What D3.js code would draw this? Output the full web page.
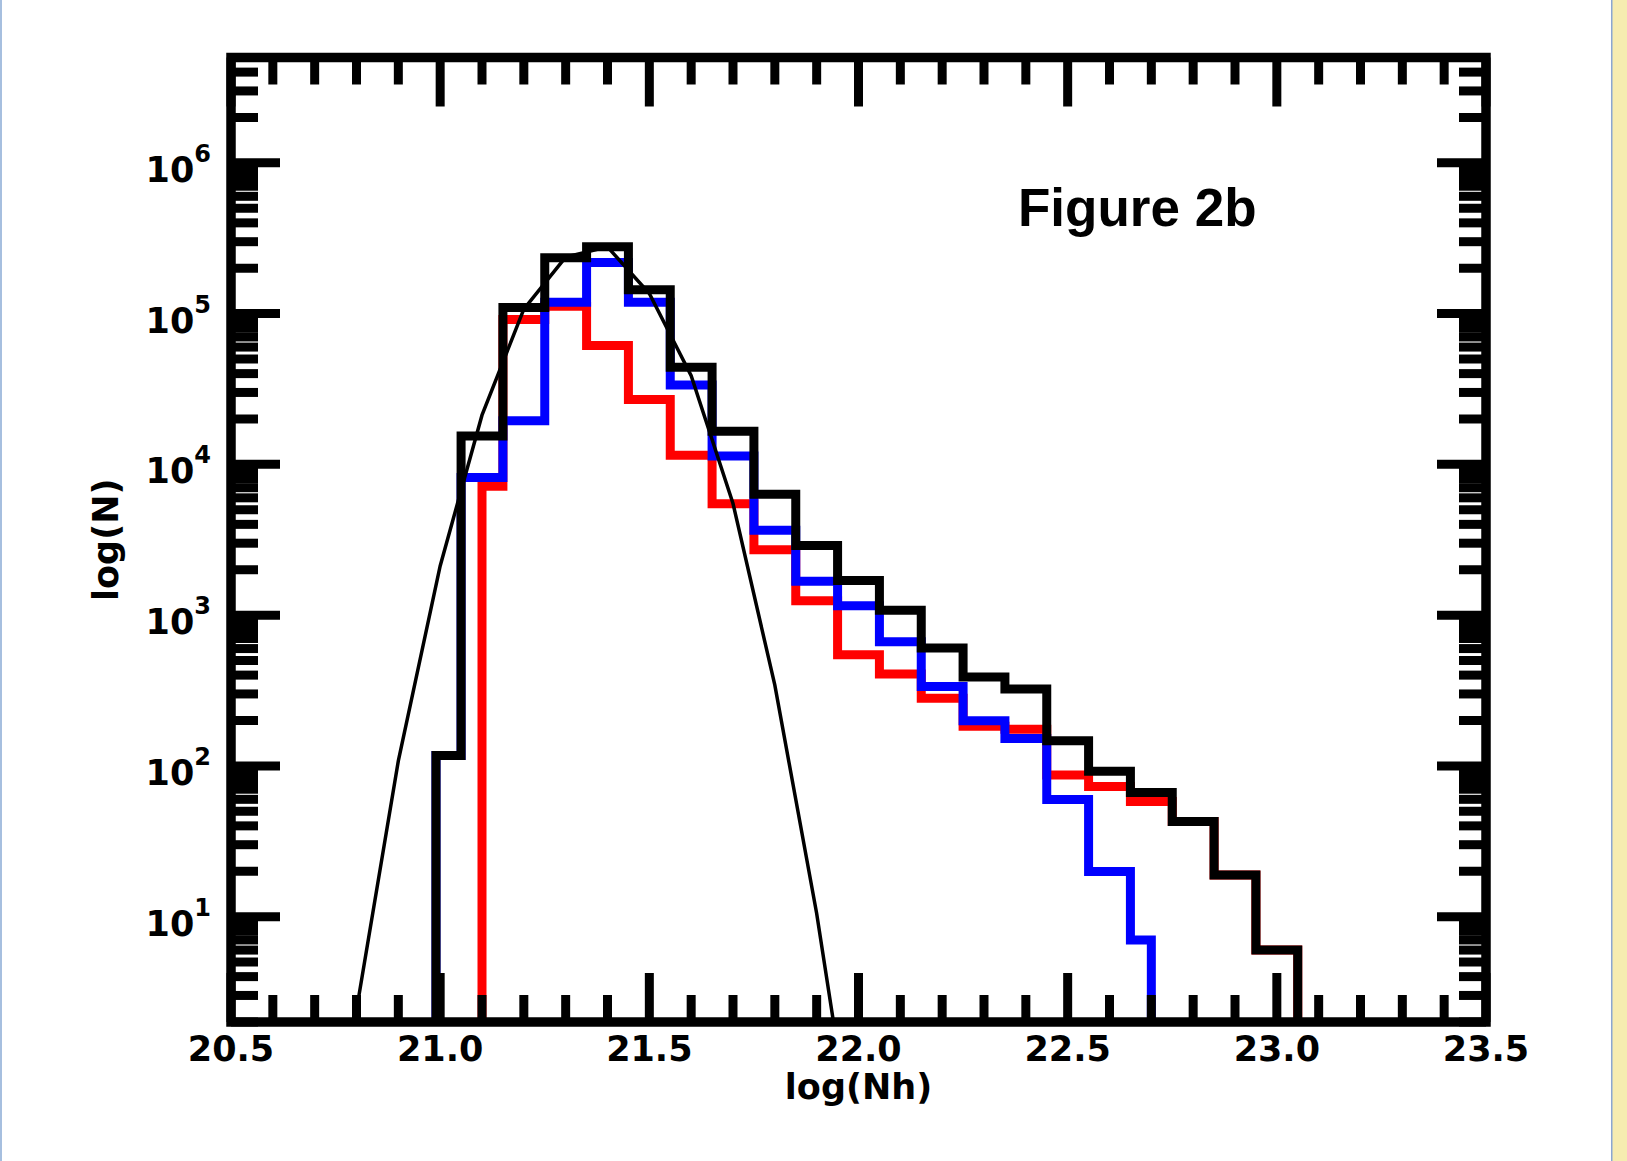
<!DOCTYPE html>
<html>
<head>
<meta charset="utf-8">
<script src="https://cdn.jsdelivr.net/npm/d3@7"></script>
<style>
  body { margin: 0; background: #fff; }
  svg { display: block; }
</style>
</head>
<body>
<svg id="chart" width="1627" height="1161"></svg>
<script>
// histogram bin edges / counts
var blackEdges = [20.99, 21.05, 21.15, 21.25, 21.35, 21.45, 21.55, 21.65, 21.75, 21.85, 21.95,
                  22.05, 22.15, 22.25, 22.35, 22.45, 22.55, 22.65, 22.75, 22.85, 22.95, 23.05];
var blackCounts = [117, 15400, 110000, 235000, 278000, 144000, 44000, 16600, 6340, 2900, 1700,
                   1076, 605, 389, 324, 147, 92, 66.5, 42.8, 18.9, 6.0];

var blueEdges = [20.99, 21.05, 21.15, 21.25, 21.35, 21.45, 21.55, 21.65, 21.75, 21.85, 21.95,
                 22.05, 22.15, 22.25, 22.35, 22.45, 22.55, 22.65, 22.7];
var blueCounts = [117, 8170, 19500, 119000, 218000, 119000, 33600, 11350, 3660, 1675, 1153,
                  665, 336, 199, 152, 59.8, 19.9, 7.0];

var redEdges = [21.1, 21.15, 21.25, 21.35, 21.45, 21.55, 21.65, 21.75, 21.85, 21.95,
                22.05, 22.15, 22.25, 22.35, 22.45, 22.55, 22.65, 22.75, 22.85, 22.95, 23.05];
var redCounts = [7160, 91400, 112000, 61400, 26900, 11500, 5480, 2715, 1245, 545,
                 407, 281, 183, 175, 87, 73, 58, 42.8, 18.9, 6.0];

// fitted curve (thin line)
var fitX = [20.8, 20.9, 21.0, 21.1, 21.2, 21.3, 21.4, 21.5, 21.6, 21.7, 21.8, 21.9, 22.0];
var fitY = [2.4, 108, 2120, 21200, 107000, 237000, 277000, 136000, 38700, 5500, 343, 10.5, 0.17];

var xDomain = [20.5, 23.5];
var yDomain = [2, 5e6];

var svg = d3.select("#chart");

// page decoration: thin blue rule at left, yellow strip at right
svg.append("rect").attr("x", 0).attr("y", 0).attr("width", 2).attr("height", 1161).style("fill", "#a6bfdf");
svg.append("rect").attr("x", 1612).attr("y", 0).attr("width", 15).attr("height", 1161).style("fill", "#f6ecb0");
svg.append("rect").attr("x", 1611).attr("y", 0).attr("width", 1.5).attr("height", 1161).style("fill", "#8aa6d2");

var pLeft = 231, pRight = 1486, pTop = 57.5, pBottom = 1022;

var x = d3.scaleLinear().domain(xDomain).range([pLeft, pRight]);
var y = d3.scaleLog().domain(yDomain).range([pBottom, pTop]);

svg.append("clipPath").attr("id", "plotclip")
  .append("rect")
  .attr("x", pLeft).attr("y", pTop)
  .attr("width", pRight - pLeft).attr("height", pBottom - pTop);

var plot = svg.append("g").attr("clip-path", "url(#plotclip)");

function stepPoints(edges, counts) {
  var pts = [[edges[0], yDomain[0] / 10]];
  for (var i = 0; i < counts.length; i++) pts.push([edges[i], counts[i]]);
  pts.push([edges[edges.length - 1], counts[counts.length - 1]]);
  pts.push([edges[edges.length - 1], yDomain[0] / 10]);
  return pts;
}

var stepLine = d3.line()
  .x(function(d) { return x(d[0]); })
  .y(function(d) { return y(d[1]); });

function drawHist(edges, counts, color) {
  var pts = stepPoints(edges, counts);
  var path = [];
  for (var i = 0; i < pts.length; i++) {
    if (i > 0) path.push([pts[i][0], pts[i - 1][1]]);
    path.push(pts[i]);
  }
  plot.append("path")
    .attr("d", stepLine(path))
    .style("fill", "none")
    .style("stroke", color)
    .style("stroke-width", 9)
    .style("stroke-linejoin", "miter");
}

drawHist(redEdges, redCounts, "#ff0000");
drawHist(blueEdges, blueCounts, "#0000ff");
drawHist(blackEdges, blackCounts, "#000000");

plot.append("path")
  .attr("d", d3.line()
    .x(function(d, i) { return x(fitX[i]); })
    .y(function(d) { return y(d); })(fitY))
  .style("fill", "none")
  .style("stroke", "#000")
  .style("stroke-width", 3.5);

// ticks, inward on all four sides
var majorLen = 49, minorLen = 27, tickW = 9;
var ticksG = svg.append("g").style("stroke", "#000").style("stroke-width", tickW);

var xMinor = x.ticks(30);
var xMajor = x.ticks(6);
var isXMajor = function(v) { return Math.abs(v * 2 - Math.round(v * 2)) < 1e-6; };

xMinor.forEach(function(v) {
  var len = isXMajor(v) ? majorLen : minorLen;
  ticksG.append("line").attr("x1", x(v)).attr("x2", x(v)).attr("y1", pBottom).attr("y2", pBottom - len);
  ticksG.append("line").attr("x1", x(v)).attr("x2", x(v)).attr("y1", pTop).attr("y2", pTop + len);
});

var yAll = y.ticks();
var isYMajor = function(v) { return Math.abs(Math.log10(v) - Math.round(Math.log10(v))) < 1e-6; };

yAll.forEach(function(v) {
  var len = isYMajor(v) ? majorLen : minorLen;
  ticksG.append("line").attr("y1", y(v)).attr("y2", y(v)).attr("x1", pLeft).attr("x2", pLeft + len);
  ticksG.append("line").attr("y1", y(v)).attr("y2", y(v)).attr("x1", pRight).attr("x2", pRight - len);
});

// frame
svg.append("rect")
  .attr("x", pLeft).attr("y", pTop)
  .attr("width", pRight - pLeft).attr("height", pBottom - pTop)
  .style("fill", "none").style("stroke", "#000").style("stroke-width", 9.5);

// tick labels
var labelFont = "'DejaVu Sans', sans-serif";

svg.append("g").selectAll("text")
  .data(xMajor)
  .enter().append("text")
  .attr("x", function(d) { return x(d); })
  .attr("y", 1061)
  .attr("text-anchor", "middle")
  .style("font-family", labelFont)
  .style("font-weight", "bold")
  .style("font-size", "35px")
  .text(d3.format(".1f"));

var yMajor = yAll.filter(isYMajor);
var yLab = svg.append("g").selectAll("text")
  .data(yMajor)
  .enter().append("text")
  .attr("x", 211)
  .attr("y", function(d) { return y(d) + 19; })
  .attr("text-anchor", "end")
  .style("font-family", labelFont)
  .style("font-weight", "bold")
  .style("font-size", "35px");
yLab.append("tspan").text("10");
yLab.append("tspan")
  .attr("dy", -20)
  .style("font-size", "24px")
  .text(function(d) { return Math.round(Math.log10(d)); });

// axis titles
svg.append("text")
  .attr("x", (pLeft + pRight) / 2)
  .attr("y", 1099)
  .attr("text-anchor", "middle")
  .style("font-family", labelFont)
  .style("font-weight", "bold")
  .style("font-size", "35px")
  .text("log(Nh)");

svg.append("text")
  .attr("transform", "translate(118," + ((pTop + pBottom) / 2) + ") rotate(-90)")
  .attr("text-anchor", "middle")
  .style("font-family", labelFont)
  .style("font-weight", "bold")
  .style("font-size", "35px")
  .text("log(N)");

svg.append("text")
  .attr("x", 1018)
  .attr("y", 226)
  .style("font-family", "'Liberation Sans', Arial, sans-serif")
  .style("font-weight", "bold")
  .style("font-size", "53px")
  .text("Figure 2b");
</script>
</body>
</html>
